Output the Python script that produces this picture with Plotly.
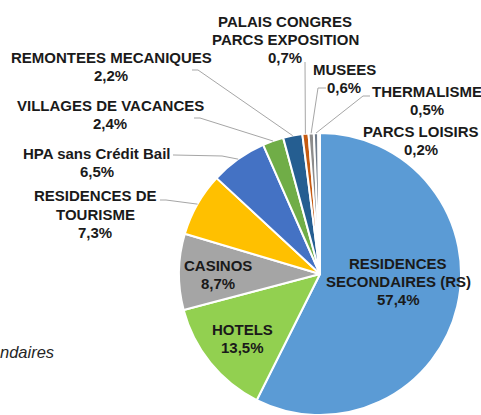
import math
import plotly.graph_objects as go

# ---- data ----
categories = [
    "RESIDENCES SECONDAIRES (RS)", "HOTELS", "CASINOS", "RESIDENCES DE TOURISME",
    "HPA sans Crédit Bail", "VILLAGES DE VACANCES", "REMONTEES MECANIQUES",
    "PALAIS CONGRES PARCS EXPOSITION", "MUSEES", "THERMALISME", "PARCS LOISIRS",
]
label_lines = [
    ["RESIDENCES", "SECONDAIRES (RS)"], ["HOTELS"], ["CASINOS"], ["RESIDENCES DE", "TOURISME"],
    ["HPA sans Crédit Bail"], ["VILLAGES DE VACANCES"], ["REMONTEES MECANIQUES"],
    ["PALAIS CONGRES", "PARCS EXPOSITION"], ["MUSEES"], ["THERMALISME"], ["PARCS LOISIRS"],
]
values = [57.4, 13.5, 8.7, 7.3, 6.5, 2.4, 2.2, 0.7, 0.6, 0.5, 0.2]
colors = ["#5B9BD5", "#92D050", "#A5A5A5", "#FFC000", "#4472C4", "#70AD47",
          "#255E91", "#C55A11", "#8C8C8C", "#6F7B8A", "#BF9000"]
side_note = "ndaires"

# ---- layout geometry (pixels) ----
W, H = 481, 415
CX, CY, R = 320, 274, 141
LINE = 18

# label block centres (px) and leader-line start points (px, None = no line)
label_pos = [(398, 281), (242, 338), (218, 274), (95, 214), (97, 162), (110, 114),
             (111, 66), (285, 40), (344, 78), (427, 100), (421, 140)]
leader_start = [None, None, None, [(160, 200), (166, 200)], [(173, 155), (222, 156)],
                [(194, 118), (200, 118)], [(192, 70), (198, 70)], [(305, 62)],
                [(326, 88), (318, 88)], [(370, 96), (363, 96)], None]


def px(x):
    return x / W


def py(y):
    return 1 - y / H


def fmt(v):
    return f"{v:.1f}".replace(".", ",") + "%"


fig = go.Figure(go.Pie(
    labels=categories, values=values, sort=False, direction="clockwise", rotation=0,
    marker=dict(colors=colors, line=dict(color="white", width=2)),
    textinfo="none", hoverinfo="label+percent", showlegend=False,
    domain=dict(x=[px(CX - R), px(CX + R)], y=[py(CY + R), py(CY - R)]),
))

total = sum(values)
annotations = []
shapes = []
cum = 0.0
for lines, v, pos, lead in zip(label_lines, values, label_pos, leader_start):
    mid = (cum + v / 2) / total * 2 * math.pi
    cum += v
    all_lines = lines + [fmt(v)]
    n = len(all_lines)
    for i, t in enumerate(all_lines):
        yy = pos[1] + (i - (n - 1) / 2) * LINE
        annotations.append(dict(
            x=px(pos[0]), y=py(yy), xref="paper", yref="paper",
            text=f"<b>{t}</b>", showarrow=False,
            xanchor="center", yanchor="middle", align="center",
            font=dict(family="Liberation Sans, Arial", size=15, color="#1a1a1a"),
        ))
    if lead:
        ex = CX + R * math.sin(mid)
        ey = CY - R * math.cos(mid)
        pts = list(lead) + [(ex, ey)]
        path = "M " + " L ".join(f"{px(a):.5f},{py(b):.5f}" for a, b in pts)
        shapes.append(dict(type="path", path=path, xref="paper", yref="paper",
                           line=dict(color="#A6A6A6", width=1)))

annotations.append(dict(
    x=px(56), y=py(352), xref="paper", yref="paper", text=f"<i>{side_note}</i>",
    showarrow=False, xanchor="right", yanchor="middle",
    font=dict(family="Liberation Sans, Arial", size=16.5, color="#262626"),
))

fig.update_layout(
    width=W, height=H, margin=dict(l=0, r=0, t=0, b=0),
    paper_bgcolor="white", plot_bgcolor="white",
    annotations=annotations, shapes=shapes,
)
fig.write_html(
    "out.html",
    config={"displayModeBar": False},
    post_script="document.body.style.margin='0';document.body.style.overflow='hidden';",
)
